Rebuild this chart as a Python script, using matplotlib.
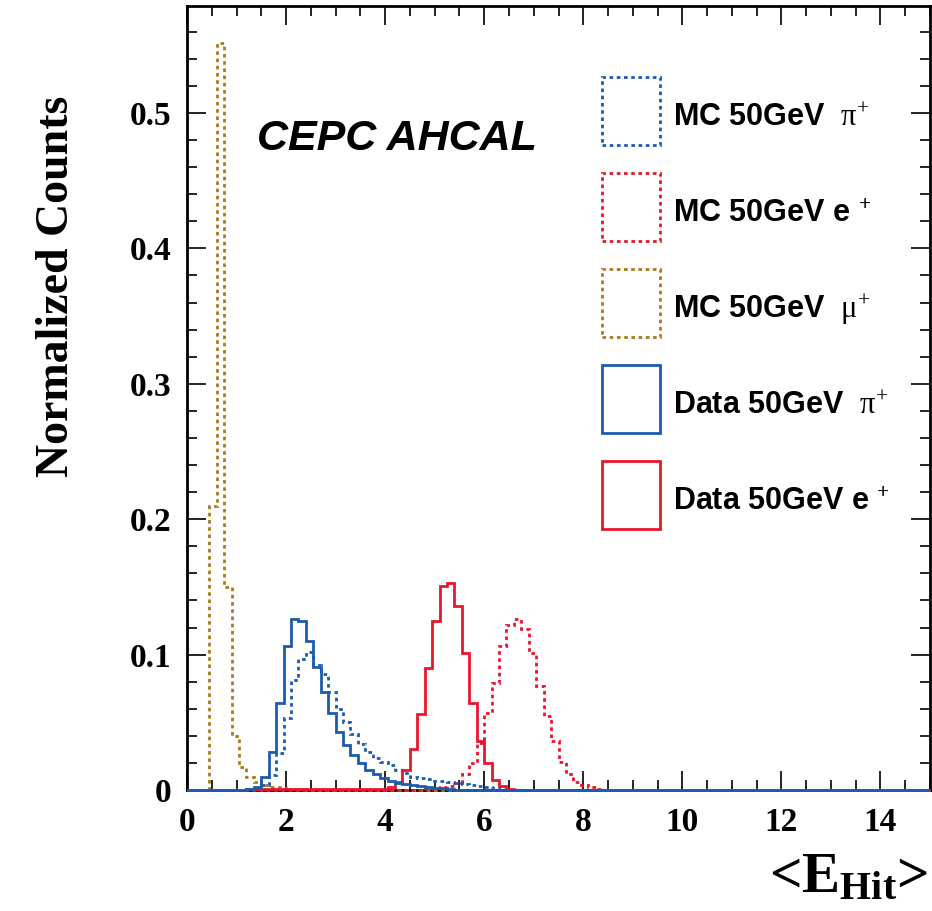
import numpy as np
import matplotlib
matplotlib.use('Agg')
import matplotlib.pyplot as plt
from matplotlib.patches import Patch, Rectangle
from matplotlib.legend_handler import HandlerPatch
from matplotlib.ticker import MultipleLocator, FuncFormatter

plt.rcParams['font.family'] = ['Liberation Serif', 'DejaVu Serif']
plt.rcParams['font.weight'] = 'bold'
plt.rcParams['mathtext.fontset'] = 'custom'
plt.rcParams['mathtext.rm'] = 'Liberation Serif:weight=normal'
plt.rcParams['mathtext.bf'] = 'Liberation Serif:bold'
plt.rcParams['mathtext.it'] = 'Liberation Serif:italic'

bin_width = 0.15
x_max = 15

# normalized counts, one value per bin, starting at the given low edge
mc_pi_start = 1.35
mc_pi = [0.0015, 0.004, 0.011, 0.027, 0.053, 0.081, 0.097, 0.102, 0.092, 0.086,
         0.0725, 0.060, 0.050, 0.041, 0.034, 0.028, 0.024, 0.021, 0.0185, 0.015,
         0.0125, 0.0098, 0.009, 0.008, 0.007, 0.0065, 0.0058, 0.005, 0.0045, 0.004,
         0.003, 0.002, 0.0012, 0.0006]

mc_e_start = 4.8
mc_e = [0.0008, 0.0015, 0.002, 0.003, 0.005, 0.012, 0.020, 0.035, 0.057, 0.079,
        0.106, 0.122, 0.126, 0.119, 0.101, 0.077, 0.055, 0.036, 0.021, 0.012,
        0.006, 0.0037, 0.002, 0.001]

mc_mu_start = 0.45
mc_mu = [0.21, 0.552, 0.15, 0.040, 0.017, 0.0098, 0.006, 0.0037, 0.0025, 0.002,
         0.0012, 0.0008, 0.0005]

data_pi_start = 1.2
data_pi = [0.001, 0.0025, 0.0098, 0.028, 0.064, 0.106, 0.126, 0.125, 0.110, 0.091,
           0.0725, 0.057, 0.043, 0.033, 0.026, 0.0197, 0.0148, 0.0118, 0.0086, 0.0065,
           0.0052, 0.0044, 0.0037, 0.003, 0.0024, 0.0018, 0.0012, 0.0006]

data_e_start = 1.2
data_e = [0.0005, 0.0005, 0.0005, 0.0005, 0.0005, 0.0005, 0.0005, 0.0005, 0.0005, 0.0005,
          0.0005, 0.0005, 0.0005, 0.0005, 0.0005, 0.0005, 0.0005, 0.0005, 0.0005,
          0.002, 0.006, 0.015, 0.030, 0.056, 0.090, 0.125, 0.151, 0.153, 0.136,
          0.101, 0.064, 0.036, 0.0197, 0.0074, 0.003, 0.001]

labels = ['MC 50GeV  $\\mathrm{\\pi}^{+}$',
          'MC 50GeV e $^{\\mathbf{+}}$',
          'MC 50GeV  $\\mathrm{\\mu}^{+}$',
          'Data 50GeV  $\\mathrm{\\pi}^{+}$',
          'Data 50GeV e $^{\\mathbf{+}}$']

blue = '#1c5cae'
red = '#e8162c'
brown = '#a87a1e'
dotted = (0, (1.3, 1.3))

edges = np.round(np.arange(0, x_max + bin_width / 2, bin_width), 4)


def full_hist(start, values):
    counts = np.zeros(len(edges) - 1)
    i0 = int(round(start / bin_width))
    counts[i0:i0 + len(values)] = values
    return counts


def legend_box(legend, orig_handle, xdescent, ydescent, width, height, fontsize):
    # taller box than the handle area so the label sits near its middle
    return Rectangle((-xdescent, -ydescent), width, 2.225 * fontsize)


fig = plt.figure(figsize=(9.32, 9.11), dpi=100)
ax = fig.add_axes([187 / 932, 1 - 790 / 911, 743 / 932, 784 / 911])

lw = 2.0
ax.stairs(full_hist(mc_mu_start, mc_mu), edges, color=brown, lw=lw, ls=dotted, clip_on=False, zorder=3)
ax.stairs(full_hist(mc_e_start, mc_e), edges, color=red, lw=lw, ls=dotted, clip_on=False, zorder=3)
ax.stairs(full_hist(mc_pi_start, mc_pi), edges, color=blue, lw=lw, ls=dotted, clip_on=False, zorder=3)
ax.stairs(full_hist(data_e_start, data_e), edges, color=red, lw=lw, clip_on=False, zorder=3)
ax.stairs(full_hist(data_pi_start, data_pi), edges, color=blue, lw=lw, clip_on=False, zorder=3)

ax.set_xlim(0, x_max)
ax.set_ylim(0, 0.579)

ax.xaxis.set_major_locator(MultipleLocator(2))
ax.xaxis.set_minor_locator(MultipleLocator(0.5))
ax.yaxis.set_major_locator(MultipleLocator(0.1))
ax.yaxis.set_minor_locator(MultipleLocator(0.02))
ax.yaxis.set_major_formatter(FuncFormatter(lambda v, p: '0' if abs(v) < 1e-9 else f'{v:.1f}'))

ax.tick_params(which='both', direction='in', top=True, right=True, width=1.2, labelsize=24)
ax.tick_params(which='major', length=14)
ax.tick_params(which='minor', length=7)
ax.tick_params(axis='y', pad=11)
ax.tick_params(axis='x', pad=12)
for s in ax.spines.values():
    s.set_linewidth(2)

ax.set_ylabel('Normalized Counts', fontsize=33, fontweight='bold', loc='top')
ax.yaxis.set_label_coords(-0.147, 0.886)
ax.set_xlabel('<E$_{\\mathbf{Hit}}$>', fontsize=41, fontweight='bold', loc='right')
ax.xaxis.set_label_coords(0.997, -0.079)

ax.text(0.094, 0.816, 'CEPC AHCAL', transform=ax.transAxes, fontsize=31,
        family='Liberation Sans', weight='bold', style='italic', va='baseline')

handles = [Patch(fill=False, edgecolor=blue, lw=lw, ls=dotted),
           Patch(fill=False, edgecolor=red, lw=lw, ls=dotted),
           Patch(fill=False, edgecolor=brown, lw=lw, ls=dotted),
           Patch(fill=False, edgecolor=blue, lw=lw),
           Patch(fill=False, edgecolor=red, lw=lw)]
ax.legend(handles, labels, loc='upper left', bbox_to_anchor=(0.559, 0.8956),
          frameon=False, borderpad=0, borderaxespad=0,
          handlelength=1.9, handleheight=2.5, labelspacing=1.273, handletextpad=0.42,
          handler_map={Patch: HandlerPatch(patch_func=legend_box)},
          prop={'family': 'Liberation Sans', 'weight': 'bold', 'size': 22})

fig.savefig('out.png', dpi=100)
